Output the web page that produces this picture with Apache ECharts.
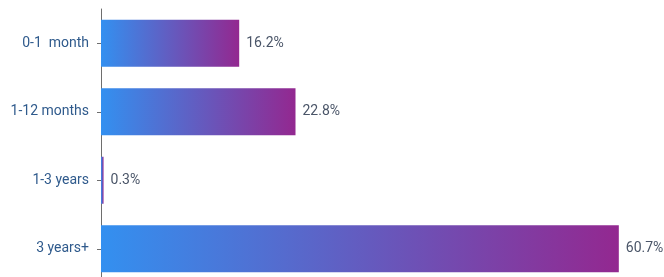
<!DOCTYPE html>
<html>
<head>
<meta charset="utf-8">
<script src="https://cdn.jsdelivr.net/npm/echarts@6/dist/echarts.min.js"></script>
<style>
  html, body { margin: 0; padding: 0; background: #fff; }
  #chart { width: 664px; height: 277px; }
</style>
</head>
<body>
<div id="chart"></div>
<script>
// age buckets, top to bottom
const categories = ['0-1  month', '1-12 months', '1-3 years', '3 years+'];
const shares = [16.2, 22.8, 0.3, 60.7];

const chart = echarts.init(document.getElementById('chart'));

const barColor = new echarts.graphic.LinearGradient(0, 0, 1, 0, [
  { offset: 0, color: '#3390f0' },
  { offset: 1, color: '#932890' }
]);

chart.setOption({
  animation: false,
  grid: { left: 101, right: 8.5, top: 9, height: 274, outerBoundsMode: 'none' },
  xAxis: {
    type: 'value',
    min: 0,
    max: 65,
    show: false
  },
  yAxis: {
    type: 'category',
    inverse: true,
    data: categories,
    axisLine: { lineStyle: { color: '#6e6e6e', width: 1 } },
    axisTick: { show: true, length: 4, alignWithLabel: true, lineStyle: { color: '#6e6e6e' } },
    axisLabel: {
      color: '#2f5a8c',
      fontFamily: 'Roboto',
      fontSize: 14,
      margin: 12
    }
  },
  series: [{
    type: 'bar',
    data: shares,
    barWidth: 47,
    itemStyle: { color: barColor },
    label: {
      show: true,
      position: 'right',
      distance: 7,
      color: '#4a5568',
      fontFamily: 'Roboto',
      fontSize: 14,
      formatter: p => p.value + '%'
    }
  }]
});
</script>
</body>
</html>
